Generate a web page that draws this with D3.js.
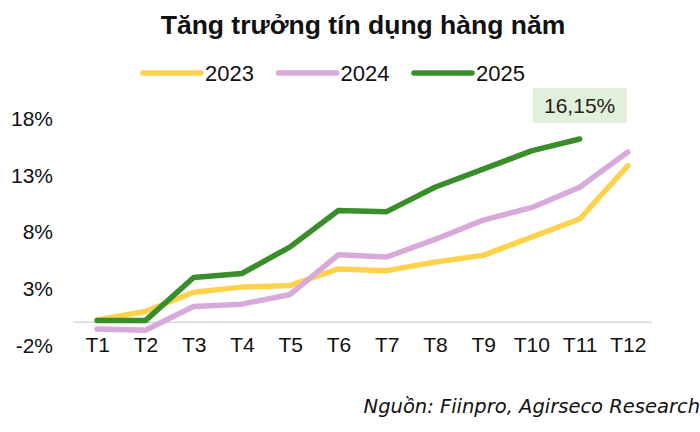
<!DOCTYPE html>
<html>
<head>
<meta charset="utf-8">
<script src="https://cdn.jsdelivr.net/npm/d3@7"></script>
<style>
  body { margin: 0; background: #fff; }
  text { font-family: "Liberation Sans", Arial, sans-serif; fill: #111; }
</style>
</head>
<body>
<svg id="chart" width="700" height="432"></svg>
<script>
// data
const months = ["T1", "T2", "T3", "T4", "T5", "T6", "T7", "T8", "T9", "T10", "T11", "T12"];
const growth2023 = [0.2, 0.95, 2.65, 3.1, 3.25, 4.7, 4.55, 5.3, 5.9, 7.5, 9.1, 13.8];
const growth2024 = [-0.6, -0.7, 1.4, 1.6, 2.45, 5.95, 5.75, 7.3, 9.0, 10.1, 11.9, 15.0];
const growth2025 = [0.15, 0.15, 3.95, 4.3, 6.65, 9.85, 9.75, 11.9, 13.5, 15.1, 16.15];
const yTicks = [-2, 3, 8, 13, 18];
const years = ["2023", "2024", "2025"];
const colors = ["#ffd24d", "#d7aad9", "#3a8d2b"];

const svg = d3.select("#chart");
const margin = { left: 73, right: 48, top: 118, bottom: 87 };
const width = 700, height = 432;

const x = d3.scalePoint()
	.domain(months)
	.range([margin.left, width - margin.right])
	.padding(0.5);

const y = d3.scaleLinear()
	.domain([-2, 18])
	.range([345, 118]);

// title
svg.append("text")
	.attr("x", 363).attr("y", 34)
	.attr("text-anchor", "middle")
	.style("font-size", "26.5px")
	.style("font-weight", "bold")
	.text("Tăng trưởng tín dụng hàng năm");

// legend
const legend = svg.append("g");
years.forEach((yr, i) => {
	let lx = 143 + i * 135.5;
	legend.append("line")
		.attr("x1", lx).attr("x2", lx + 58)
		.attr("y1", 73).attr("y2", 73)
		.style("stroke", colors[i])
		.style("stroke-width", 5.5)
		.style("stroke-linecap", "round");
	legend.append("text")
		.attr("x", lx + 62).attr("y", 81)
		.style("font-size", "22px")
		.text(yr);
});

// zero line
svg.append("line")
	.attr("x1", margin.left).attr("x2", width - margin.right)
	.attr("y1", y(0)).attr("y2", y(0))
	.style("stroke", "#d9d9d9")
	.style("stroke-width", 1.5);

// y axis labels
const yAxis = svg.append("g")
	.attr("transform", `translate(${53},0)`)
	.call(d3.axisLeft(y).tickValues(yTicks).tickSize(0).tickFormat(d => d + "%"));
yAxis.select(".domain").remove();
yAxis.selectAll("text")
	.attr("x", 0)
	.attr("dy", "0.35em")
	.style("font-family", "'Liberation Sans', Arial, sans-serif")
	.style("font-size", "21px")
	.style("fill", "#111");

// x axis labels
const xAxis = svg.append("g")
	.attr("transform", `translate(0,${y(-2)})`)
	.call(d3.axisBottom(x).tickSize(0));
xAxis.select(".domain").remove();
xAxis.selectAll("text")
	.attr("y", 0)
	.attr("dy", "0.35em")
	.style("font-family", "'Liberation Sans', Arial, sans-serif")
	.style("font-size", "21px")
	.style("fill", "#111");

// lines
const line = d3.line()
	.x((d, i) => x(months[i]))
	.y(d => y(d));

[growth2023, growth2024, growth2025].forEach((series, i) => {
	svg.append("path")
		.datum(series)
		.attr("d", line)
		.style("fill", "none")
		.style("stroke", colors[i])
		.style("stroke-width", 5.5)
		.style("stroke-linecap", "round")
		.style("stroke-linejoin", "round");
});

// last value label for 2025
const lastIdx = growth2025.length - 1;
const lastVal = growth2025[lastIdx];
const lbl = svg.append("g")
	.attr("transform", `translate(${x(months[lastIdx])},${y(lastVal) - 33})`);
lbl.append("rect")
	.attr("x", -47).attr("y", -18)
	.attr("width", 94).attr("height", 35)
	.style("fill", "#e2efda");
lbl.append("text")
	.attr("text-anchor", "middle")
	.attr("y", 7)
	.style("font-size", "21px")
	.style("fill", "#222")
	.text(d3.format(".2f")(lastVal).replace(".", ",") + "%");

// source
svg.append("text")
	.attr("x", 700).attr("y", 413)
	.attr("text-anchor", "end")
	.style("font-family", "'DejaVu Sans', Verdana, sans-serif")
	.style("font-style", "italic")
	.style("font-size", "19.5px")
	.style("fill", "#111")
	.text("Nguồn: Fiinpro, Agirseco Research");
</script>
</body>
</html>
